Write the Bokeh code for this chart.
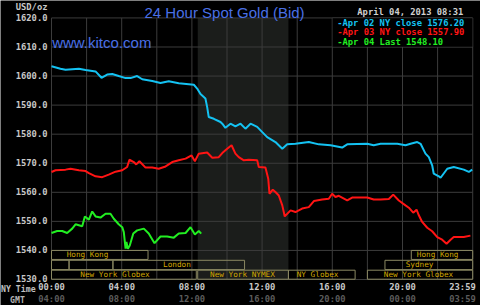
from bokeh.plotting import figure
from bokeh.models import (Range1d, FixedTicker, CustomJSTickFormatter, LinearAxis,
                          BoxAnnotation, Label)
from bokeh.core.properties import value
from bokeh.embed import file_html
from bokeh.resources import INLINE

# ---------------- data (hours NY time, USD/oz) ----------------
apr02_h = [0.00, 0.51, 0.80, 1.56, 1.94, 2.51, 2.85, 3.17, 3.46, 3.83, 4.22, 4.50, 4.88, 5.17,
           5.74, 6.21, 6.68, 7.25, 7.82, 8.11, 8.30, 8.49, 8.77, 8.87, 8.96, 9.25, 9.63, 9.73,
           9.91, 10.20, 10.48, 10.77, 11.05, 11.34, 11.72, 12.01, 12.29, 12.76, 13.15, 13.43,
           13.90, 14.66, 15.23, 15.90, 16.56, 16.85, 17.99, 18.36, 18.75, 19.70, 20.17, 20.46,
           20.84, 21.03, 21.31, 21.50, 21.69, 21.78, 22.07, 22.17, 22.55, 22.92, 23.49, 23.78, 23.97]
apr02_v = [1603.4, 1602.5, 1602.2, 1602.5, 1602.1, 1601.6, 1599.4, 1600.5, 1600.7, 1600.0, 1599.3,
           1599.3, 1600.0, 1598.9, 1598.3, 1597.6, 1598.2, 1597.5, 1597.2, 1597.0, 1595.7, 1593.8,
           1592.3, 1589.3, 1585.9, 1585.3, 1584.2, 1583.6, 1582.2, 1583.6, 1582.7, 1583.6, 1581.9,
           1583.6, 1582.5, 1580.7, 1579.0, 1577.3, 1575.0, 1576.5, 1576.7, 1577.3, 1576.5, 1576.2,
           1575.4, 1576.5, 1576.7, 1576.2, 1576.7, 1576.7, 1576.2, 1576.7, 1577.3, 1576.7, 1573.3,
           1572.1, 1569.3, 1566.4, 1565.5, 1565.0, 1568.1, 1568.7, 1567.8, 1567.0, 1567.8]

apr03_h = [0.00, 0.23, 0.80, 1.08, 1.56, 1.94, 2.13, 2.51, 2.89, 3.26, 3.65, 4.03, 4.31, 4.44,
           4.69, 4.83, 5.01, 5.36, 5.74, 6.11, 6.50, 6.88, 7.25, 7.64, 7.98, 8.17, 8.39, 8.87,
           9.16, 9.53, 9.73, 10.01, 10.26, 10.48, 10.67, 10.96, 11.24, 11.72, 11.81, 12.19, 12.35,
           12.42, 12.61, 12.76, 12.95, 13.15, 13.29, 13.62, 13.90, 14.28, 14.66, 14.95, 15.42,
           15.80, 15.99, 16.18, 16.37, 16.85, 17.13, 17.99, 18.36, 18.75, 19.22, 19.47, 19.79,
           20.17, 20.36, 20.61, 20.80, 20.93, 21.12, 21.41, 21.69, 21.98, 22.26, 22.51, 22.74,
           22.92, 23.49, 23.87]
apr03_v = [1567.0, 1567.6, 1567.8, 1568.1, 1567.6, 1567.3, 1566.6, 1565.5, 1565.2, 1566.1, 1567.1,
           1567.6, 1568.7, 1571.2, 1570.4, 1569.6, 1570.7, 1568.5, 1568.5, 1568.1, 1568.9, 1570.4,
           1571.0, 1571.6, 1572.7, 1570.7, 1573.3, 1573.7, 1571.9, 1572.1, 1573.5, 1575.0, 1576.2,
           1573.3, 1572.1, 1571.0, 1571.2, 1571.0, 1568.7, 1568.5, 1564.7, 1559.5, 1560.9, 1560.1,
           1558.9, 1555.5, 1551.7, 1553.8, 1553.2, 1554.4, 1554.9, 1557.0, 1557.5, 1557.8, 1559.5,
           1558.4, 1558.8, 1557.2, 1558.2, 1558.2, 1557.5, 1557.5, 1557.7, 1559.2, 1557.2, 1555.5,
           1554.7, 1553.0, 1554.0, 1552.1, 1549.8, 1547.8, 1546.6, 1544.6, 1543.7, 1542.3, 1543.7,
           1544.6, 1544.6, 1545.1]

apr04_h = [0.00, 0.32, 0.61, 0.89, 1.18, 1.37, 1.75, 1.90, 2.13, 2.32, 2.51, 2.79, 3.08, 3.36,
           3.55, 3.83, 4.03, 4.12, 4.22, 4.27, 4.35, 4.46, 4.66, 4.88, 5.26, 5.54, 5.87, 6.21,
           6.59, 6.97, 7.25, 7.64, 7.92, 8.17, 8.39, 8.53]
apr04_v = [1546.0, 1546.7, 1546.7, 1546.0, 1547.5, 1549.0, 1548.3, 1551.7, 1550.6, 1553.4, 1551.7,
           1551.3, 1552.6, 1552.6, 1550.9, 1549.0, 1548.0, 1546.3, 1540.6, 1542.9, 1540.6, 1541.7,
           1545.8, 1546.9, 1547.5, 1545.8, 1542.5, 1544.8, 1544.8, 1544.4, 1545.8, 1546.0, 1548.0,
           1545.5, 1546.7, 1545.8]

legend_texts = ["-Apr 02 NY close 1576.20", "-Apr 03 NY close 1557.90", "-Apr 04 Last 1548.10"]

# trading sessions: start hour, end hour, row, label, label hour
sess_start = [0.0, 20.5, 0.0, 1.0, 3.5, 19.0, 0.0, 8.33, 13.5, 18.0]
sess_end = [5.5, 24.0, 1.0, 3.5, 11.0, 24.0, 8.25, 13.5, 17.3, 24.0]
sess_row = [0, 0, 1, 1, 1, 1, 2, 2, 2, 2]
sess_label = ["Hong Kong", "Hong Kong", "", "", "London", "Sydney",
              "New York Globex", "New York NYMEX", "NY Globex", "New York Globex"]
sess_label_h = [2.05, 22.0, 0.5, 2.25, 7.15, 20.97, 3.62, 10.88, 15.16, 20.91]
nymex_open, nymex_close = 8.333, 13.5

y_ticks = [1530, 1540, 1550, 1560, 1570, 1580, 1590, 1600, 1610, 1620]
y_labels = ["1530.0", "1540.0", "1550.0", "1560.0", "1570.0", "1580.0", "1590.0",
            "1600.0", "1610.0", "1620.0"]
grid_hours = [0, 2, 4, 6, 8, 10, 12, 14, 16, 18, 20, 22, 24]
x_tick_hours = [0, 4, 8, 12, 16, 20, 23.42]
ny_labels = ["00:00", "04:00", "08:00", "12:00", "16:00", "20:00", "23:59"]
gmt_labels = ["04:00", "08:00", "12:00", "16:00", "20:00", "00:00", "03:59"]

# ---------------- layout / styling ----------------
MONO = "DejaVu Sans Mono"
SANS = "Liberation Sans"
GRID = "#3c3c3c"
BLUE_TXT = "#4a70e6"
CYAN, RED, GREEN = "#14c2f2", "#ff1414", "#22ee22"
BOX_LINE, BOX_TXT = "#8a8862", "#d4a800"
T0, T1 = 0, 24            # time span of the chart
P0, P1 = 1530, 1620       # price span of the chart
LEFT_H, RIGHT_H = -2.906, 24.444    # canvas edges in hours
BOTTOM_P, TOP_P = 1521.05, 1626.0   # canvas edges in price units
NYCAP_H, GMTCAP_H = -1.89, -1.94    # centres of the "NY Time"/"GMT" captions
UNIT_P = 1623.9           # height of the "USD/oz" caption

p = figure(width=480, height=305, output_backend="svg", toolbar_location=None,
           x_range=Range1d(LEFT_H, RIGHT_H), y_range=Range1d(BOTTOM_P, TOP_P),
           x_axis_location=None, y_axis_location=None,
           min_border_left=0, min_border_right=0, min_border_top=0, min_border_bottom=0,
           background_fill_color="#000000", border_fill_color="#000000")
p.outline_line_color = None
p.xgrid.visible = False
p.ygrid.visible = False

# NYMEX shading
p.quad(left=[nymex_open], right=[nymex_close], bottom=[P0], top=[P1],
       fill_color="#1b1d1b", line_alpha=0)

# grid lines limited to the chart area
p.segment(x0=grid_hours, x1=grid_hours, y0=[P0] * len(grid_hours), y1=[P1] * len(grid_hours),
          line_color=GRID, line_width=1)
p.segment(x0=[T0] * len(y_ticks), x1=[T1] * len(y_ticks), y0=y_ticks, y1=y_ticks,
          line_color=GRID, line_width=1)


def make_axis(ticks, labels, color, standoff, loc, size="8.8px"):
    ax = LinearAxis(fixed_location=loc)
    ax.ticker = FixedTicker(ticks=ticks)
    ax.formatter = CustomJSTickFormatter(args=dict(labs=labels),
                                         code="return labs[ticks.indexOf(tick)];")
    ax.axis_line_color = None
    ax.major_tick_line_color = None
    ax.minor_tick_line_color = None
    ax.major_tick_out = 0
    ax.major_tick_in = 0
    ax.major_label_standoff = standoff
    ax.major_label_text_font = MONO
    ax.major_label_text_font_style = "bold"
    ax.major_label_text_font_size = size
    ax.major_label_text_color = color
    return ax

# price axis (with the unit caption on top)
p.add_layout(make_axis(y_ticks + [UNIT_P], y_labels + ["USD/oz"], "#c8c8c8", 4, T0), "left")
# time axes: NY time row and GMT row, plus their captions
p.add_layout(make_axis(x_tick_hours, ny_labels, "#c8c8c8", 3, P0), "below")
p.add_layout(make_axis(x_tick_hours, gmt_labels, "#5c5c5c", 15, P0), "below")
p.add_layout(make_axis([NYCAP_H], ["NY Time"], "#c0c0c0", 5, P0, "8.2px"), "below")
p.add_layout(make_axis([GMTCAP_H], ["GMT"], "#b4b4b4", 16, P0, "8.2px"), "below")

# session boxes
row_top = [1540.0, 1536.6, 1533.2]
row_bot = [1536.9, 1533.4, 1530.1]
p.quad(left=sess_start, right=sess_end,
       top=[row_top[r] for r in sess_row], bottom=[row_bot[r] for r in sess_row],
       fill_alpha=0, line_color=BOX_LINE, line_width=1)
p.text(x=sess_label_h, y=[(row_top[r] + row_bot[r]) / 2 for r in sess_row], text=sess_label,
       text_align="center", text_baseline="middle", text_font=value(MONO),
       text_font_size="7.7px", text_color=BOX_TXT)

# price lines
p.line(apr02_h, apr02_v, line_color=CYAN, line_width=2)
p.line(apr03_h, apr03_v, line_color=RED, line_width=2)
p.line(apr04_h, apr04_v, line_color=GREEN, line_width=2)

# legend box
p.add_layout(BoxAnnotation(left=16, right=24, bottom=1610, top=1620, fill_color="#000000",
                           fill_alpha=1, line_color="#5a5a5a", line_width=1))
for txt, col, yy in zip(legend_texts, [CYAN, RED, GREEN], [1618.2, 1615.1, 1611.8]):
    p.add_layout(Label(x=16.28, y=yy, text=txt, text_color=col, text_font=MONO,
                       text_font_style="bold", text_font_size="8.8px", text_baseline="middle"))

# texts
p.add_layout(Label(x=0.04, y=1611.7, text="www.kitco.com", text_baseline="alphabetic",
                   text_color=BLUE_TXT, text_font=SANS, text_font_size="15px"))
p.add_layout(Label(x=9.86, y=1621.8, text="24 Hour Spot Gold (Bid)", text_align="center",
                   text_baseline="alphabetic", text_color=BLUE_TXT, text_font=SANS,
                   text_font_size="15px"))
p.add_layout(Label(x=23.46, y=1622.1, text="April 04, 2013 08:31", text_align="right",
                   text_baseline="middle", text_color="#d0d0d0", text_font=MONO,
                   text_font_style="bold", text_font_size="8.8px"))

open("out.html", "w").write(file_html(p, INLINE))
